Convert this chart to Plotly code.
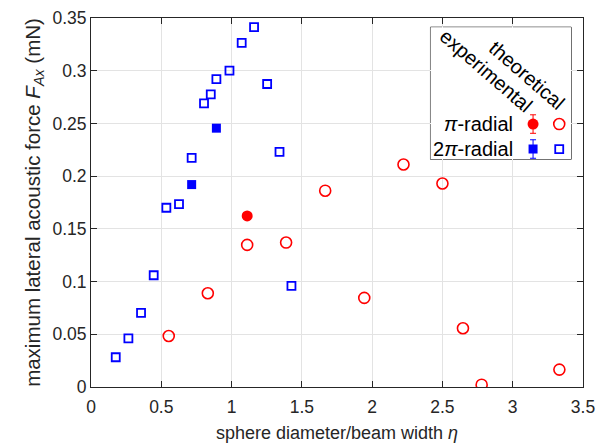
import plotly.graph_objects as go

# theoretical pi-radial (open red circles)
theo_pi_eta = [0.553, 0.831, 1.111, 1.388, 1.666, 1.944, 2.223, 2.500, 2.646, 2.779, 3.332]
theo_pi_F = [0.0484, 0.0889, 0.1348, 0.1370, 0.1862, 0.0845, 0.2110, 0.1930, 0.0557, 0.0022, 0.0165]
# experimental pi-radial (filled red circle)
exp_pi_eta = [1.111]
exp_pi_F = [0.1623]
# theoretical 2pi-radial (open blue squares)
theo_2pi_eta = [0.176, 0.266, 0.356, 0.446, 0.536, 0.626, 0.716, 0.804, 0.852, 0.892,
                0.985, 1.072, 1.160, 1.253, 1.341, 1.426]
theo_2pi_F = [0.0282, 0.0462, 0.0703, 0.1060, 0.1700, 0.1735, 0.2174, 0.2690, 0.2775, 0.2921,
              0.3000, 0.3265, 0.3413, 0.2874, 0.2230, 0.0959]
# experimental 2pi-radial (filled blue squares)
exp_2pi_eta = [0.716, 0.892]
exp_2pi_F = [0.1920, 0.2455]

# legend labels
legend_rows = ["<i>π</i>-radial", "2<i>π</i>-radial"]
legend_cols = ["experimental", "theoretical"]

RED = "#ff0000"
BLUE = "#0000ff"
DARK = "#262626"
FONT = "Liberation Sans, Arial, sans-serif"

fig = go.Figure()
fig.add_trace(go.Scatter(x=theo_pi_eta, y=theo_pi_F, mode="markers",
                         marker=dict(symbol="circle-open", size=11, color=RED, line=dict(width=1.6, color=RED)),
                         showlegend=False))
fig.add_trace(go.Scatter(x=exp_pi_eta, y=exp_pi_F, mode="markers",
                         marker=dict(symbol="circle", size=11, color=RED),
                         showlegend=False))
fig.add_trace(go.Scatter(x=theo_2pi_eta, y=theo_2pi_F, mode="markers",
                         marker=dict(symbol="square-open", size=8, color=BLUE, line=dict(width=1.8, color=BLUE)),
                         showlegend=False))
fig.add_trace(go.Scatter(x=exp_2pi_eta, y=exp_2pi_F, mode="markers",
                         marker=dict(symbol="square", size=9, color=BLUE),
                         showlegend=False))

# custom legend drawn on an overlay axis (units 0..1 inside the legend box)
leg_col_x = [0.729, 0.915]
leg_row_y = [0.267, 0.078]
fig.add_trace(go.Scatter(x=[leg_col_x[0]], y=[leg_row_y[0]], xaxis="x2", yaxis="y2", mode="markers",
                         marker=dict(symbol="circle", size=11, color=RED),
                         error_y=dict(type="constant", value=0.07, color=RED, thickness=1, width=3),
                         showlegend=False, hoverinfo="skip"))
fig.add_trace(go.Scatter(x=[leg_col_x[1]], y=[leg_row_y[0]], xaxis="x2", yaxis="y2", mode="markers",
                         marker=dict(symbol="circle-open", size=11, color=RED, line=dict(width=1.6, color=RED)),
                         showlegend=False, hoverinfo="skip"))
fig.add_trace(go.Scatter(x=[leg_col_x[0]], y=[leg_row_y[1]], xaxis="x2", yaxis="y2", mode="markers",
                         marker=dict(symbol="square", size=9, color=BLUE),
                         error_y=dict(type="constant", value=0.07, color=BLUE, thickness=1, width=3),
                         showlegend=False, hoverinfo="skip"))
fig.add_trace(go.Scatter(x=[leg_col_x[1]], y=[leg_row_y[1]], xaxis="x2", yaxis="y2", mode="markers",
                         marker=dict(symbol="square-open", size=8, color=BLUE, line=dict(width=1.8, color=BLUE)),
                         showlegend=False, hoverinfo="skip"))

annotations = []
for label, yy in zip(legend_rows, leg_row_y):
    annotations.append(dict(x=0.60, y=yy, xref="x2", yref="y2", text=label, showarrow=False,
                            xanchor="right", yanchor="middle", font=dict(family=FONT, size=20, color="black")))
col_centers = [(0.399, 0.671), (0.684, 0.639)]
for label, (cx, cy) in zip(legend_cols, col_centers):
    annotations.append(dict(x=cx, y=cy, xref="x2", yref="y2", text=label, showarrow=False,
                            textangle=41, xanchor="center", yanchor="middle",
                            font=dict(family=FONT, size=20, color="black")))

axis_common = dict(showline=True, linecolor=DARK, linewidth=1, mirror="ticks", ticks="inside",
                   ticklen=6, tickcolor=DARK, showgrid=True, gridcolor="#e3e3e3", gridwidth=1,
                   zeroline=False, automargin=False,
                   tickfont=dict(family=FONT, size=17.5, color=DARK))

fig.update_layout(
    width=603, height=439,
    margin=dict(l=83, r=28, t=10, b=60),
    paper_bgcolor="white", plot_bgcolor="white",
    font=dict(family=FONT, color=DARK),
    xaxis=dict(range=[0, 3.5], dtick=0.5, tick0=0, ticklabelstandoff=4,
               title=dict(text="sphere diameter/beam width <i>η</i>", standoff=10,
                          font=dict(family=FONT, size=18, color=DARK)), **axis_common),
    yaxis=dict(range=[0, 0.35], dtick=0.05, tick0=0,
               title=dict(text="maximum lateral acoustic force <i>F</i><sub><i>Ax</i></sub> (mN)", standoff=6,
                          font=dict(family=FONT, size=20.5, color=DARK)),
               **axis_common),
    xaxis2=dict(domain=[0.690, 0.976], range=[0, 1], visible=False, anchor="y2", fixedrange=True),
    yaxis2=dict(domain=[0.617, 0.975], range=[0, 1], visible=False, anchor="x2", fixedrange=True),
    shapes=[dict(type="rect", xref="paper", yref="paper", x0=0.690, x1=0.976, y0=0.617, y1=0.975,
                 line=dict(color="black", width=1), fillcolor="white", layer="between")],
    annotations=annotations,
    showlegend=False,
)

fig.write_html("out.html")
